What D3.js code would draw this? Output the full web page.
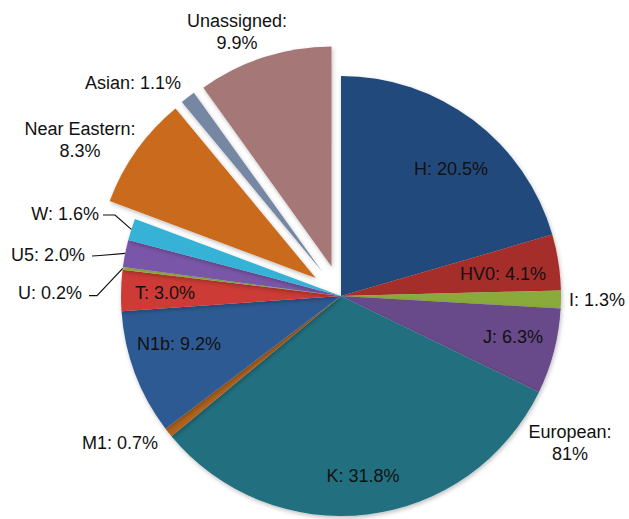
<!DOCTYPE html>
<html>
<head>
<meta charset="utf-8">
<script src="https://cdn.jsdelivr.net/npm/d3@7/dist/d3.min.js"></script>
<style>
  html, body { margin: 0; padding: 0; background: #fff; }
  svg { display: block; }
  text { font-family: "Liberation Sans", Arial, Helvetica, sans-serif; font-size: 18px; fill: #111; }
</style>
</head>
<body>
<svg id="chart" width="629" height="519"></svg>
<script>
// ---- data ----
const categories = ["H", "HV0", "I", "J", "K", "M1", "N1b", "T", "U", "U5", "W", "Near Eastern", "Asian", "Unassigned"];
const values = [20.5, 4.1, 1.3, 6.3, 31.8, 0.7, 9.2, 3.0, 0.2, 2.0, 1.6, 8.3, 1.1, 9.9];
const groups = ["European", "European", "European", "European", "European", "European", "European", "European", "European", "European", "European", "Near Eastern", "Asian", "Unassigned"];
const colors = ["#234a7b", "#a62f2c", "#8aab3a", "#68488a", "#21707f", "#b0621c", "#2d5a94", "#cc3a36", "#9bc33f", "#7a56a8", "#35b2d6", "#c96a1d", "#7487a3", "#a67777"];
const groupLabel = ["European:", "81%"];

// ---- layout (label placement only) ----
const width = 629, height = 519;
const cx = 341, cy = 296, radius = 220, explodeDist = 31;
const labelPos = {
  "H": [451, 175, "middle"],
  "HV0": [503, 280, "middle"],
  "I": [569, 306, "start"],
  "J": [513, 343, "middle"],
  "K": [363, 482, "middle"],
  "M1": [120, 449, "middle"],
  "N1b": [179, 350, "middle"],
  "T": [165, 299, "middle"],
  "U": [82, 299, "end"],
  "U5": [85, 260.5, "end"],
  "W": [99, 220, "end"],
  "Near Eastern": [80, 135, "middle", true],
  "Asian": [133, 89, "middle"],
  "Unassigned": [237, 27, "middle", true]
};
const leaders = {
  "W": [[103, 215], [115, 215]],
  "U5": [[92, 256], [100, 255.5]],
  "U": [[89, 295.7], [97, 295.7]]
};
const europeanPos = [570, 438];
const lineH = 21.5;

const svg = d3.select("#chart");
const defs = svg.append("defs");
const f = defs.append("filter").attr("id", "shadow").attr("x", "-10%").attr("y", "-10%").attr("width", "120%").attr("height", "120%");
f.append("feDropShadow").attr("dx", 1).attr("dy", 2).attr("stdDeviation", 2).attr("flood-color", "#000").attr("flood-opacity", 0.25);

const data = categories.map((c, i) => ({ name: c, value: values[i], group: groups[i], color: colors[i] }));
const pie = d3.pie().sort(null).value(d => d.value).startAngle(0).endAngle(2 * Math.PI);
const arcs = pie(data);
const arc = d3.arc().innerRadius(0).outerRadius(radius);

const g = svg.append("g").attr("transform", `translate(${cx},${cy})`);

function offset(d) {
  if (d.data.group === "European") return [0, 0];
  const a = (d.startAngle + d.endAngle) / 2;
  return [Math.sin(a) * explodeDist, -Math.cos(a) * explodeDist];
}

g.selectAll("path.slice")
  .data(arcs)
  .join("path")
  .attr("class", "slice")
  .attr("d", arc)
  .attr("fill", d => d.data.color)
  .attr("filter", "url(#shadow)")
  .attr("transform", d => { const o = offset(d); return `translate(${o[0]},${o[1]})`; });

// leader lines
arcs.forEach(d => {
  const L = leaders[d.data.name];
  if (!L) return;
  const a = (d.startAngle + d.endAngle) / 2;
  const px = cx + Math.sin(a) * radius, py = cy - Math.cos(a) * radius;
  const pts = [L[0], L[1], [px, py]];
  svg.append("path")
    .attr("d", d3.line()(pts))
    .attr("fill", "none")
    .attr("stroke", "#111")
    .attr("stroke-width", 1.2);
});

// labels
arcs.forEach(d => {
  const p = labelPos[d.data.name];
  const txt = d.data.name + ": " + d3.format(".1f")(d.data.value) + "%";
  const t = svg.append("text").attr("x", p[0]).attr("y", p[1]).attr("text-anchor", p[2]);
  if (p[3]) {
    t.append("tspan").attr("x", p[0]).attr("dy", 0).text(d.data.name + ":");
    t.append("tspan").attr("x", p[0]).attr("dy", lineH).text(d3.format(".1f")(d.data.value) + "%");
  } else {
    t.text(txt);
  }
});

const et = svg.append("text").attr("x", europeanPos[0]).attr("y", europeanPos[1]).attr("text-anchor", "middle");
et.append("tspan").attr("x", europeanPos[0]).attr("dy", 0).text(groupLabel[0]);
et.append("tspan").attr("x", europeanPos[0]).attr("dy", lineH).text(groupLabel[1]);
</script>
</body>
</html>
